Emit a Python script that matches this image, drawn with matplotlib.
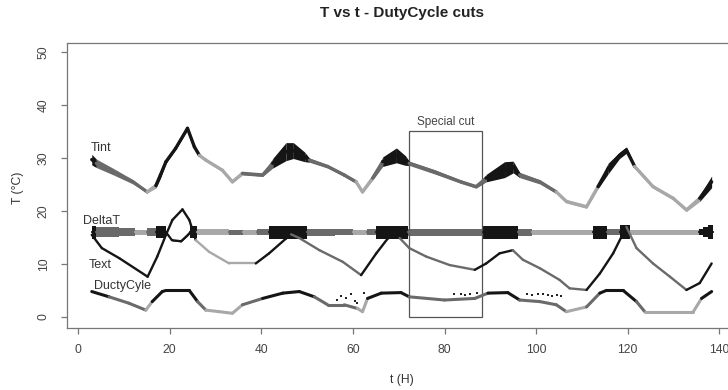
import matplotlib
matplotlib.use("Agg")
import matplotlib.pyplot as plt
from matplotlib.patches import Rectangle

plt.rcParams['font.family'] = ['Liberation Sans', 'DejaVu Sans']

# cut level of each point: 0 = low duty cycle, 1 = medium, 2 = high
cut_colors = ['#a8a8a8', '#6a6a6a', '#151515']

# Tint
tint_t = [3.0, 4.0, 8.0, 12.0, 15.1, 17.0, 18.0, 19.2, 21.3, 23.9, 25.4, 26.5, 27.9, 31.5, 33.7,
          35.9, 40.3, 42.5, 45.4, 47.0, 49.5, 50.5, 54.5, 58.1, 60.7, 62.1, 64.3, 66.5, 69.5,
          71.5, 72.3, 77.8, 83.6, 86.9, 89.1, 93.1, 95.0, 96.4, 100.8, 104.4, 106.6, 111.0,
          113.5, 115.7, 118.2, 119.7, 121.5, 125.5, 129.9, 132.8, 135.7, 138.3]
tint_v = [29.7, 29.0, 27.3, 25.5, 23.6, 24.8, 26.8, 29.3, 31.8, 35.6, 32.1, 30.5, 29.6, 27.7, 25.5,
          27.1, 26.8, 29.0, 31.2, 31.4, 30.2, 29.6, 28.4, 26.8, 25.5, 23.6, 26.2, 29.3, 30.5,
          29.5, 29.0, 27.4, 25.5, 24.6, 26.2, 27.8, 28.3, 26.8, 25.5, 23.6, 21.8, 20.8,
          24.6, 28.0, 30.5, 31.5, 28.4, 24.6, 22.4, 20.2, 22.4, 25.5]
tint_cut = [2, 1, 1, 1, 0, 2, 2, 2, 2, 2, 2, 0, 0, 0, 0,
            1, 1, 2, 2, 2, 2, 1, 1, 1, 0, 0, 1, 2, 2,
            2, 1, 1, 1, 1, 2, 2, 2, 1, 1, 0, 0, 0,
            2, 2, 2, 2, 0, 0, 0, 0, 2, 2]
tint_spread = [1.0, 0.8, 0.6, 0.4, 0.2, 0.5, 0.6, 0.3, 0.2, 0.3, 0.4, 0.2, 0.2, 0.3, 0.2,
               0.3, 0.3, 0.9, 1.7, 1.5, 0.9, 0.4, 0.3, 0.3, 0.3, 0.2, 0.4, 0.9, 1.4,
               0.9, 0.4, 0.4, 0.3, 0.3, 0.7, 1.5, 1.1, 0.5, 0.4, 0.3, 0.3, 0.3,
               0.4, 1.0, 0.6, 0.6, 0.4, 0.3, 0.3, 0.3, 0.6, 1.1]

# DeltaT
dt_t = [3.0, 4.0, 9.0, 12.5, 15.0, 17.0, 19.2, 20.5, 22.5, 24.0, 24.5, 26.0, 33.0, 36.0, 39.0,
        41.7, 50.0, 56.0, 60.0, 63.0, 65.0, 72.0, 88.4, 96.0, 99.0, 112.4, 115.4, 118.3,
        120.5, 135.5, 136.5, 137.5, 138.5]
dt_v = [16.0, 16.0, 16.0, 16.0, 16.0, 16.0, 16.0, 14.5, 14.3, 15.5, 16.0, 16.0, 16.0, 16.0, 16.0,
        16.0, 16.0, 16.0, 16.0, 16.0, 16.0, 16.0, 16.0, 16.0, 16.0, 16.0, 16.0, 16.0,
        16.0, 16.0, 16.0, 16.0, 16.0]
dt_cut = [2, 1, 1, 0, 1, 2, 2, 2, 2, 2, 2, 0, 1, 0, 1,
          2, 1, 1, 0, 1, 2, 1, 2, 1, 0, 2, 1, 2,
          0, 2, 2, 2, 2]
dt_spread = [1.2, 1.0, 0.8, 0.5, 0.7, 1.1, 0.15, 0.15, 0.15, 0.15, 1.1, 0.55, 0.5, 0.5, 0.55,
             1.2, 0.65, 0.6, 0.5, 0.6, 1.2, 0.65, 1.2, 0.65, 0.5, 1.2, 0.55, 1.3,
             0.5, 0.55, 0.9, 1.3, 1.5]

# Text
text_t = [3.0, 5.2, 9.0, 15.2, 17.3, 19.2, 20.6, 22.8, 24.3, 25.7, 28.6, 33.0, 38.8, 41.7, 45.4,
          46.5, 48.3, 52.7, 57.8, 61.8, 65.1, 67.6, 69.4, 70.2, 72.3, 76.0, 81.1, 86.6, 89.1,
          92.0, 94.9, 97.1, 100.8, 105.1, 107.3, 111.0, 113.9, 116.8, 119.0, 119.7, 121.9,
          125.5, 129.2, 132.8, 135.7, 138.3]
text_v = [15.5, 13.0, 11.1, 7.6, 11.4, 15.5, 18.3, 20.3, 18.3, 14.5, 12.3, 10.1, 10.1, 12.0, 14.8,
          15.6, 14.9, 12.6, 10.4, 7.9, 12.0, 14.8, 15.8, 14.9, 13.0, 11.4, 9.8, 8.9, 10.1,
          12.0, 12.6, 10.8, 9.2, 7.0, 5.4, 5.1, 8.2, 12.0, 15.8, 17.0, 13.0,
          10.1, 7.6, 5.1, 6.4, 10.1]
text_cut = [2, 2, 2, 2, 2, 2, 2, 2, 2, 0, 0, 0, 2, 2, 2,
            1, 1, 1, 1, 2, 2, 2, 2, 1, 1, 1, 1, 2, 2,
            2, 1, 1, 1, 1, 1, 2, 2, 2, 2, 1, 1,
            1, 1, 2, 2, 2]

# DuctyCyle (duty cycle)
dc_t = [3.0, 6.8, 11.1, 14.8, 16.2, 18.4, 19.2, 24.3, 26.1, 27.9, 30.8, 33.7, 35.9, 40.3, 44.7,
        48.3, 51.6, 54.5, 58.1, 61.0, 62.1, 63.2, 66.2, 70.5, 72.3, 80.0, 86.6, 89.5, 93.8,
        96.4, 100.8, 104.4, 106.6, 111.0, 113.9, 115.3, 119.0, 121.9, 123.7, 134.3, 136.1, 138.3]
dc_v = [4.8, 3.8, 2.6, 1.3, 2.9, 4.8, 5.0, 5.0, 2.9, 1.3, 1.0, 0.7, 2.3, 3.5, 4.5,
        4.8, 3.8, 2.3, 2.3, 1.6, 1.0, 3.5, 4.5, 4.6, 3.8, 3.2, 3.5, 4.5, 4.6,
        3.2, 2.9, 2.3, 1.0, 1.9, 4.5, 5.0, 5.0, 2.9, 1.0, 1.0, 3.5, 4.8]
dc_cut = [2, 1, 1, 0, 2, 2, 2, 2, 1, 0, 0, 0, 1, 2, 2,
          2, 1, 1, 1, 0, 0, 2, 2, 2, 1, 1, 1, 2, 2,
          1, 1, 1, 0, 1, 2, 2, 2, 1, 0, 0, 2, 2]
dc_dots_t = [56.5, 57.5, 58.5, 59.5, 60.5, 61.0, 62.5, 82.0, 83.5, 84.5, 85.5, 87.0,
             98.0, 99.0, 100.5, 101.5, 102.5, 103.5, 104.5, 105.5]
dc_dots_v = [3.2, 3.9, 3.6, 4.3, 3.0, 2.6, 4.5, 4.3, 4.3, 4.2, 4.4, 4.5,
             4.4, 4.1, 4.3, 4.3, 4.2, 3.9, 4.1, 4.0]

# special cut window
special_t0, special_t1, special_top = 72.2, 88.2, 35.0

fig = plt.figure(figsize=(7.28, 3.90), dpi=100)
ax = fig.add_axes([67 / 728, 62 / 390, 668 / 728, 285 / 390])


def draw_series(t, v, cut, spread=None, lw=1.8, step=False):
    for i in range(len(t) - 1):
        c = cut_colors[cut[i]]
        if spread is not None:
            s0 = spread[i]
            s1 = spread[i] if step else spread[i + 1]
            ax.fill_between([t[i], t[i + 1]], [v[i] - s0, v[i + 1] - s1],
                            [v[i] + s0, v[i + 1] + s1], color=c, lw=0)
        ax.plot([t[i], t[i + 1]], [v[i], v[i + 1]], color=c, lw=lw,
                solid_capstyle='round')


draw_series(dt_t, dt_v, dt_cut, dt_spread, lw=1.6, step=True)
draw_series(text_t, text_v, text_cut, lw=1.7)
draw_series(dc_t, dc_v, dc_cut, lw=2.2)
ax.scatter(dc_dots_t, dc_dots_v, s=2.5, color='#222222', marker='s', lw=0)
draw_series(tint_t, tint_v, tint_cut, tint_spread, lw=2.4)

ax.add_patch(Rectangle((special_t0, 0), special_t1 - special_t0, special_top,
                       fill=False, ec='#555555', lw=0.9))
ax.text((special_t0 + special_t1) / 2, special_top + 0.6, 'Special cut',
        ha='center', va='bottom', fontsize=8.5, color='#444444')

lab = dict(fontsize=9, color='#333333', va='center', ha='left')
ax.text(2.8, 31.9, 'Tint', **lab)
ax.text(1.1, 18.1, 'DeltaT', **lab)
ax.text(2.4, 9.8, 'Text', **lab)
ax.text(3.5, 5.8, 'DuctyCyle', **lab)

ax.set_xlim(-2.4, 143.4)
ax.set_ylim(-2.08, 51.7)
ax.set_xticks(range(0, 141, 20))
ax.set_yticks(range(0, 51, 10))
for sp in ax.spines.values():
    sp.set_color('#777777')
    sp.set_linewidth(0.9)
ax.tick_params(direction='out', length=4.5, width=0.9, color='#777777',
               labelcolor='#444444', labelsize=8.7)
ax.tick_params(axis='x', pad=7)
ax.tick_params(axis='y', pad=8)
plt.setp(ax.get_yticklabels(), rotation=90, va='center')

fig.text(402 / 728, 1 - 13 / 390, 'T vs t - DutyCycle cuts', ha='center', va='center',
         fontsize=11, fontweight='bold', color='#222222')
fig.text(402 / 728, 1 - 380 / 390, 't (H)', ha='center', va='center',
         fontsize=8.7, color='#333333')
fig.text(18 / 728, 1 - 188 / 390, 'T (°C)', ha='center', va='center',
         rotation=90, fontsize=8.7, color='#333333')

fig.savefig('out.png', dpi=100)
